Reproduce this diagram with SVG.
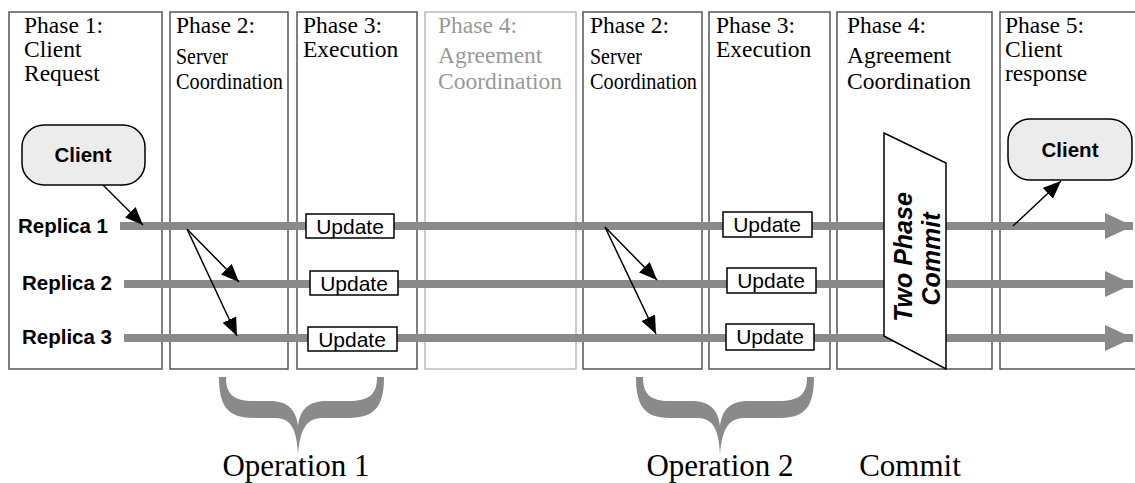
<svg xmlns="http://www.w3.org/2000/svg" width="1135" height="483" viewBox="0 0 1135 483">
<style>
.col{fill:#fff;stroke:#555;stroke-width:1.5}
.col4{fill:#fff;stroke:#bbb;stroke-width:1.5}
.ph{font-family:"Liberation Serif","Times New Roman",serif;font-size:23.5px;fill:#000}
.phg{font-family:"Liberation Serif","Times New Roman",serif;font-size:23.5px;fill:#999}
.rep{font-family:"Liberation Sans",Arial,sans-serif;font-size:20.5px;font-weight:bold;fill:#000}
.cl{fill:#ececec;stroke:#000;stroke-width:1.5}
.clt{font-family:"Liberation Sans",Arial,sans-serif;font-size:20.5px;font-weight:bold;text-anchor:middle}
.up{fill:#fff;stroke:#000;stroke-width:1.5}
.upt{font-family:"Liberation Sans",Arial,sans-serif;font-size:21px;text-anchor:middle}
.tl{stroke:#8a8a8a;stroke-width:8;fill:none}
.ar{stroke:#000;stroke-width:1.5;fill:none}
.brace{fill:#8a8a8a}
.big{font-family:"Liberation Serif","Times New Roman",serif;font-size:31px;text-anchor:middle}
.tpc{font-family:"Liberation Sans",Arial,sans-serif;font-size:25px;font-weight:bold;font-style:italic;text-anchor:middle}
</style>
<defs>
<marker id="ah" markerUnits="userSpaceOnUse" markerWidth="20" markerHeight="16" refX="18" refY="7.5" orient="auto">
<path d="M0,0 L18,7.5 L0,15 z" fill="#000"/>
</marker>
<marker id="gh" markerUnits="userSpaceOnUse" markerWidth="30" markerHeight="26" refX="28" refY="13" orient="auto">
<path d="M0,0 L28,13 L0,26 z" fill="#8a8a8a"/>
</marker>
</defs>

<g id="phase1">
<rect class="col" x="9" y="12" width="153" height="357"/>
<text class="ph" x="24" y="33">Phase 1:</text>
<text class="ph" x="24" y="57">Client</text>
<text class="ph" x="24" y="81">Request</text>
</g>
<g id="phase2a">
<rect class="col" x="170" y="12" width="118" height="357"/>
<text class="ph" x="176" y="33">Phase 2:</text>
<text class="ph" x="176" y="64" textLength="52" lengthAdjust="spacingAndGlyphs">Server</text>
<text class="ph" x="176" y="89" textLength="107" lengthAdjust="spacingAndGlyphs">Coordination</text>
</g>
<g id="phase3a">
<rect class="col" x="297" y="12" width="120" height="357"/>
<text class="ph" x="303" y="33">Phase 3:</text>
<text class="ph" x="303" y="57">Execution</text>
</g>
<g id="phase4a">
<rect class="col4" x="425" y="12" width="151" height="357"/>
<text class="phg" x="438" y="33">Phase 4:</text>
<text class="phg" x="438" y="63">Agreement</text>
<text class="phg" x="438" y="89">Coordination</text>
</g>
<g id="phase2b">
<rect class="col" x="583" y="12" width="119" height="357"/>
<text class="ph" x="590" y="33">Phase 2:</text>
<text class="ph" x="590" y="64" textLength="52" lengthAdjust="spacingAndGlyphs">Server</text>
<text class="ph" x="590" y="89" textLength="107" lengthAdjust="spacingAndGlyphs">Coordination</text>
</g>
<g id="phase3b">
<rect class="col" x="709" y="12" width="121" height="357"/>
<text class="ph" x="716" y="33">Phase 3:</text>
<text class="ph" x="716" y="57">Execution</text>
</g>
<g id="phase4b">
<rect class="col" x="837" y="12" width="155" height="357"/>
<text class="ph" x="847" y="33">Phase 4:</text>
<text class="ph" x="847" y="63">Agreement</text>
<text class="ph" x="847" y="89">Coordination</text>
</g>
<g id="phase5">
<rect class="col" x="1000" y="12" width="145" height="357"/>
<text class="ph" x="1005" y="33">Phase 5:</text>
<text class="ph" x="1005" y="57">Client</text>
<text class="ph" x="1005" y="81">response</text>
</g>

<g id="replica-labels">
<text class="rep" x="18" y="233">Replica 1</text>
<text class="rep" x="22" y="290">Replica 2</text>
<text class="rep" x="22" y="344">Replica 3</text>
</g>

<g id="connectors">
<line class="tl" x1="120" y1="226" x2="1133" y2="226" marker-end="url(#gh)"/>
<line class="tl" x1="124" y1="284" x2="1133" y2="284" marker-end="url(#gh)"/>
<line class="tl" x1="124" y1="338" x2="1133" y2="338" marker-end="url(#gh)"/>
<line class="ar" x1="103" y1="185" x2="143" y2="225" marker-end="url(#ah)"/>
<line class="ar" x1="187" y1="229" x2="239" y2="282" marker-end="url(#ah)"/>
<line class="ar" x1="187" y1="229" x2="237" y2="336" marker-end="url(#ah)"/>
<line class="ar" x1="605" y1="227" x2="657" y2="280" marker-end="url(#ah)"/>
<line class="ar" x1="605" y1="227" x2="656" y2="334" marker-end="url(#ah)"/>
<line class="ar" x1="1013" y1="226" x2="1061" y2="181" marker-end="url(#ah)"/>
</g>

<g id="client1">
<rect class="cl" x="22" y="125" width="123" height="60" rx="22"/>
<text class="clt" x="83" y="162">Client</text>
</g>
<g id="client2">
<rect class="cl" x="1008" y="119" width="124" height="61" rx="22"/>
<text class="clt" x="1070" y="157">Client</text>
</g>

<g id="update-1a"><rect class="up" x="306" y="214" width="88" height="24"/><text class="upt" x="350" y="233.5">Update</text></g>
<g id="update-2a"><rect class="up" x="310" y="271" width="88" height="24"/><text class="upt" x="354" y="290.5">Update</text></g>
<g id="update-3a"><rect class="up" x="308" y="327" width="89" height="24"/><text class="upt" x="352" y="346.5">Update</text></g>
<g id="update-1b"><rect class="up" x="723" y="212" width="89" height="25"/><text class="upt" x="767" y="232">Update</text></g>
<g id="update-2b"><rect class="up" x="727" y="268" width="89" height="25"/><text class="upt" x="771" y="288">Update</text></g>
<g id="update-3b"><rect class="up" x="726" y="324" width="88" height="26"/><text class="upt" x="770" y="344">Update</text></g>

<g id="two-phase-commit">
<polygon points="884,133 946,163 946,369 884,336" fill="#fff" stroke="#000" stroke-width="1.5"/>
<text class="tpc" transform="translate(912,257) rotate(-90)">Two Phase</text>
<text class="tpc" transform="translate(940,259) rotate(-90)">Commit</text>
</g>

<g id="operation1">
<path class="brace" d="M219,377 C219,404 226,418 254,418 L276,418 C292,418 297,432 298,454 C300,432 305,418 322,418 L348,418 C377,418 384,404 384,377 L377,377 C377,394 370,401 348,401 L326,401 C308,401 300,410 298,426 C296,410 288,401 270,401 L254,401 C233,401 226,394 226,377 Z"/>
<text class="big" x="296" y="476">Operation 1</text>
</g>
<g id="operation2">
<path class="brace" d="M636,377 C636,404 643,418 670,418 L698,418 C714,418 719,432 720,454 C722,432 727,418 744,418 L780,418 C807,418 814,404 814,377 L807,377 C807,394 800,401 778,401 L748,401 C730,401 722,410 720,426 C718,410 710,401 692,401 L670,401 C650,401 643,394 643,377 Z"/>
<text class="big" x="720" y="476">Operation 2</text>
</g>
<g id="commit">
<text class="big" x="910" y="476">Commit</text>
</g>
</svg>
